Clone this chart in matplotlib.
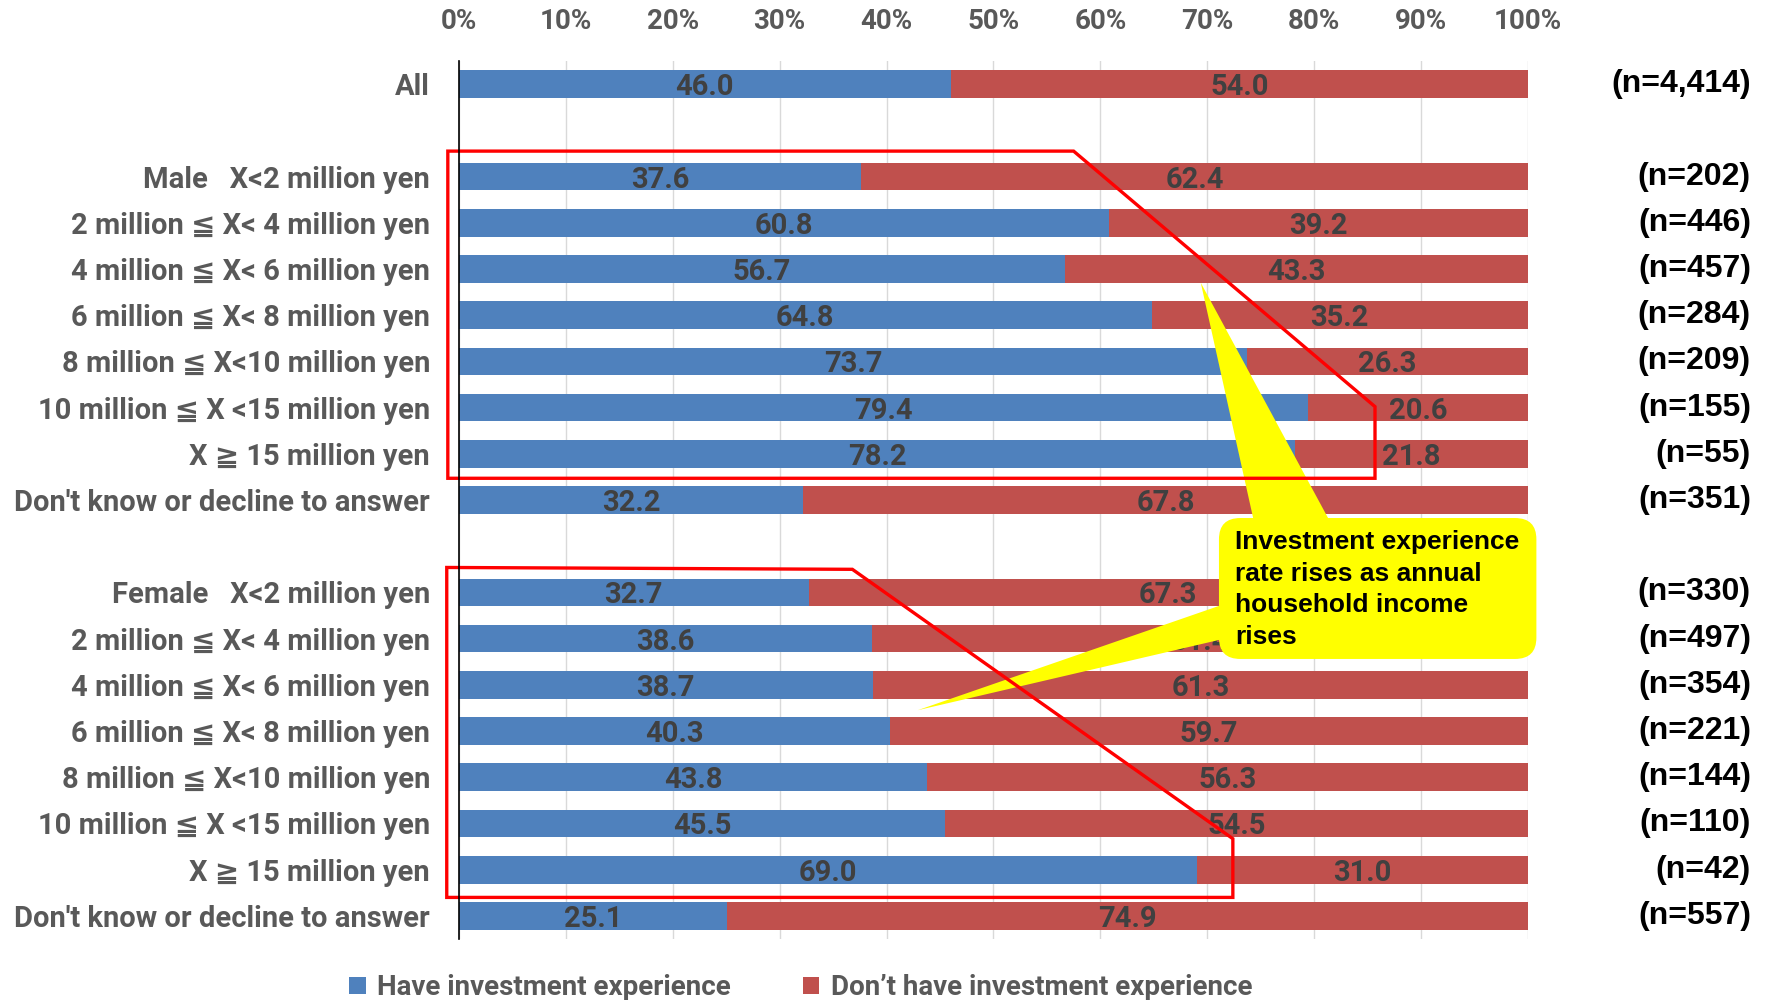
import matplotlib.pyplot as plt
import matplotlib.transforms as mtransforms
from matplotlib.patches import Polygon, FancyBboxPatch

plt.rcParams['font.family'] = ['Roboto', 'DejaVu Sans']
plt.rcParams['font.weight'] = 'bold'

BLUE = '#4F81BD'
RED = '#C0504D'
ARIAL = ['Liberation Sans', 'DejaVu Sans']

income_bands = [
    "X<2 million yen",
    "2 million ≦ X< 4 million yen",
    "4 million ≦ X< 6 million yen",
    "6 million ≦ X< 8 million yen",
    "8 million ≦ X<10 million yen",
    "10 million ≦ X <15 million yen",
    "X ≧ 15 million yen",
    "Don't know or decline to answer",
]

all_have = 46.0
all_not = 54.0
all_n = "4,414"

male_have = [37.6, 60.8, 56.7, 64.8, 73.7, 79.4, 78.2, 32.2]
male_not = [62.4, 39.2, 43.3, 35.2, 26.3, 20.6, 21.8, 67.8]
male_n = ["202", "446", "457", "284", "209", "155", "55", "351"]

female_have = [32.7, 38.6, 38.7, 40.3, 43.8, 45.5, 69.0, 25.1]
female_not = [67.3, 61.4, 61.3, 59.7, 56.3, 54.5, 31.0, 74.9]
female_n = ["330", "497", "354", "221", "144", "110", "42", "557"]

male_labels = ["Male   " + income_bands[0]] + income_bands[1:]
female_labels = ["Female   " + income_bands[0]] + income_bands[1:]

# one empty slot between groups
row_labels = ["All"] + male_labels + female_labels
have = [all_have] + male_have + female_have
dont = [all_not] + male_not + female_not
ns = [all_n] + male_n + female_n
ypos = [0] + list(range(2, 10)) + list(range(11, 19))

fig = plt.figure(figsize=(17.71, 10), dpi=100)
ax = fig.add_axes([0.2592, 0.061, 0.6035, 0.878])

ax.barh(ypos, have, height=0.6, color=BLUE, zorder=2,
        label='Have investment experience')
ax.barh(ypos, dont, left=have, height=0.6, color=RED, zorder=2,
        label='Don’t have investment experience')

for y, h, d in zip(ypos, have, dont):
    ax.text(h / 2, y, f"{h:.1f}", ha='center', va='center_baseline',
            fontsize=21, color='#404040', zorder=3)
    ax.text(h + d / 2, y, f"{d:.1f}", ha='center', va='center_baseline',
            fontsize=21, color='#404040', zorder=3)

ax.set_xlim(0, 100)
ax.set_ylim(18.5, -0.5)
ax.xaxis.tick_top()
ax.set_xticks(range(0, 101, 10), [f"{v}%" for v in range(0, 101, 10)])
ax.set_yticks(ypos, row_labels)
ax.tick_params(axis='x', length=0, pad=19, labelsize=20, labelcolor='#595959')
ax.tick_params(axis='y', length=0, pad=21, labelsize=21, labelcolor='#595959')
ax.grid(axis='x', color='#D9D9D9', linewidth=1, zorder=0)
ax.set_axisbelow(True)
for side in ['top', 'right', 'bottom']:
    ax.spines[side].set_visible(False)
ax.spines['left'].set_color('black')
ax.spines['left'].set_linewidth(1.2)
ax.spines['left'].set_zorder(6)

# sample sizes at the right edge
trans = mtransforms.blended_transform_factory(fig.transFigure, ax.transData)
for y, n in zip(ypos, ns):
    ax.text(0.9887, y, f"(n={n})", transform=trans, ha='right', va='center',
            fontsize=23, family=ARIAL, color='black', clip_on=False)

# red outlines around the income groups
male_box = [(-1.05, 1.45), (57.5, 1.45), (85.7, 6.98), (85.7, 8.53), (-1.05, 8.53)]
female_box = [(-1.15, 10.46), (36.8, 10.5), (72.4, 16.33), (72.4, 17.6), (-1.15, 17.6)]
for pts in (male_box, female_box):
    ax.add_patch(Polygon(pts, closed=True, fill=False, edgecolor='#FF0000',
                         linewidth=2.4, zorder=5, clip_on=False))

# callout with two pointers
ax.add_patch(Polygon([(69.4, 4.3), (74.5, 9.6), (81.8, 9.6)], closed=True,
                     facecolor='#FFFF00', edgecolor='none', zorder=4))
ax.add_patch(Polygon([(42.9, 13.55), (72.0, 11.22), (72.0, 11.98)], closed=True,
                     facecolor='#FFFF00', edgecolor='none', zorder=4))
ax.add_patch(FancyBboxPatch((71.1, 9.39), 29.7, 3.05,
                            boxstyle='round,pad=0,rounding_size=2',
                            mutation_aspect=0.23, facecolor='#FFFF00',
                            edgecolor='none', zorder=4, clip_on=False))
ax.text(72.6, 10.94, "Investment experience\nrate rises as annual\nhousehold income\nrises",
        ha='left', va='center', fontsize=19, family=ARIAL, color='black',
        linespacing=1.4, zorder=6)

ax.legend(loc='lower center', bbox_to_anchor=(0.452, -0.004),
          bbox_transform=fig.transFigure, ncol=2, frameon=False,
          fontsize=20, labelcolor='#595959', handlelength=0.6,
          handleheight=0.6, handletextpad=0.4, columnspacing=2.6,
          borderaxespad=0.0, borderpad=0.1)

fig.savefig('out.png', dpi=100)
